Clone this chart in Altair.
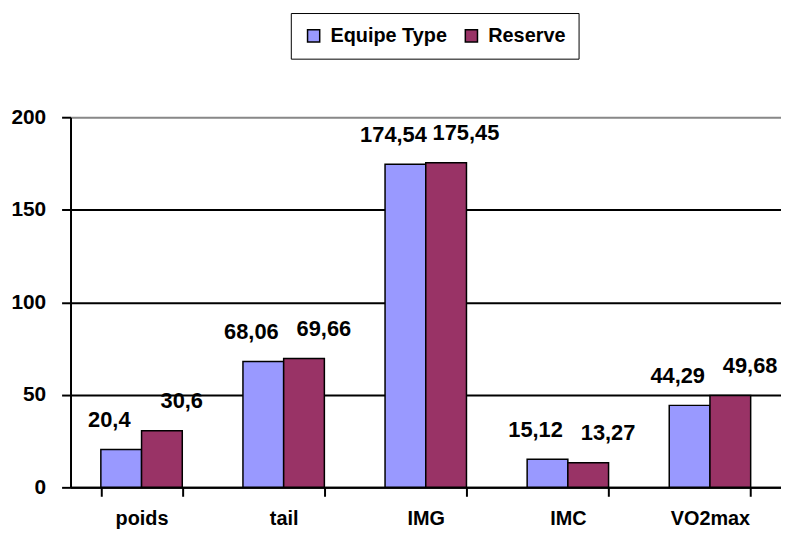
import altair as alt
import pandas as pd

categories = ["poids", "tail", "IMG", "IMC", "VO2max"]
series = ["Equipe Type", "Reserve"]
equipe_values = [20.4, 68.06, 174.54, 15.12, 44.29]
reserve_values = [30.6, 69.66, 175.45, 13.27, 49.68]
colors = ["#9999FF", "#993366"]
y_ticks = [0, 50, 100, 150, 200]

rows = []
for c, v in zip(categories, equipe_values):
    rows.append({"cat": c, "series": series[0], "value": v, "label": f"{v:g}".replace(".", ",")})
for c, v in zip(categories, reserve_values):
    rows.append({"cat": c, "series": series[1], "value": v, "label": f"{v:g}".replace(".", ",")})
df = pd.DataFrame(rows)

FONT = "Liberation Sans"

x_enc = alt.X(
    "cat:N", sort=categories,
    scale=alt.Scale(paddingInner=0.427, paddingOuter=0.2135),
    axis=alt.Axis(title=None, labelAngle=0, tickBand="extent", tickSize=9, tickWidth=2,
                  tickColor="black", domainColor="black", domainWidth=2,
                  labelFont=FONT, labelFontSize=20, labelFontWeight="bold",
                  labelColor="black", labelPadding=12, grid=False),
)
xo_enc = alt.XOffset("series:N", sort=series, scale=alt.Scale(paddingInner=0, paddingOuter=0))
y_enc = alt.Y(
    "value:Q",
    scale=alt.Scale(domain=[0, 200], nice=False),
    axis=alt.Axis(title=None, values=y_ticks, grid=True,
                  gridColor={"condition": {"test": "datum.value === 200", "value": "#888888"}, "value": "black"},
                  gridWidth=2, tickSize=9, tickWidth=2, tickColor="black",
                  domainColor="black", domainWidth=2,
                  labelFont=FONT, labelFontSize=21, labelFontWeight="bold",
                  labelColor="black", labelPadding=16),
)

base = alt.Chart(df).encode(x=x_enc, xOffset=xo_enc, y=y_enc)

bars = base.mark_bar(stroke="black", strokeWidth=1.5).encode(
    color=alt.Color(
        "series:N", sort=series,
        scale=alt.Scale(domain=series, range=colors),
        legend=alt.Legend(
            title=None, orient="none", legendX=222, legendY=-105, direction="horizontal",
            strokeColor="black", fillColor="white", padding=13,
            symbolType="square", symbolSize=150, symbolStrokeColor="black",
            symbolStrokeWidth=1.5, symbolOpacity=1,
            labelFont=FONT, labelFontSize=20, labelFontWeight="bold", labelColor="black",
            columnPadding=14, labelOffset=7,
        ),
    )
)

text_eq = base.transform_filter(alt.datum.series == series[0]).mark_text(
    font=FONT, fontSize=22, fontWeight="bold", color="black", baseline="middle", dy=-30, dx=-12
).encode(text="label:N")
text_re = base.transform_filter(alt.datum.series == series[1]).mark_text(
    font=FONT, fontSize=22, fontWeight="bold", color="black", baseline="middle", dy=-30, dx=20
).encode(text="label:N")

chart = (bars + text_eq + text_re).properties(
    width=716, height=373,
    autosize=alt.AutoSizeParams(type="none"),
    padding={"left": 63, "top": 108, "right": 0, "bottom": 50},
).configure_view(strokeWidth=0).configure_legend(strokeWidth=1.5).configure(background="white")

chart.save("out.html", embed_options={"renderer": "svg", "actions": False})
